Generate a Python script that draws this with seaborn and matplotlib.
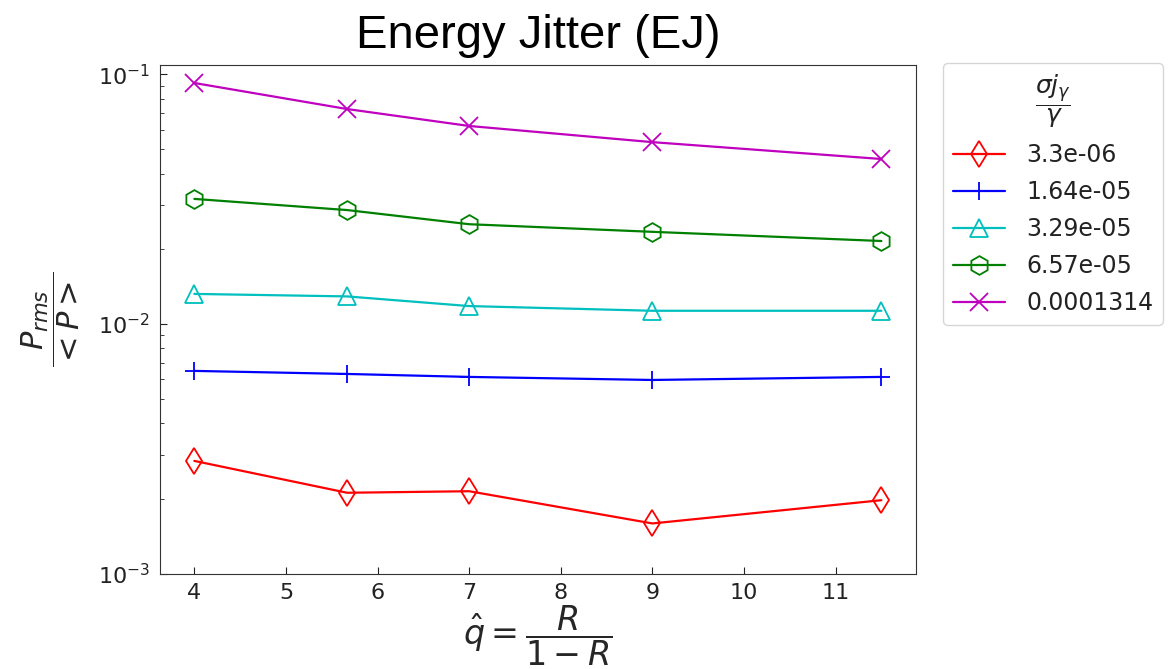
import matplotlib
matplotlib.use("Agg")
import matplotlib.pyplot as plt
import seaborn as sns
import pandas as pd

q_hat = [4.0, 5.667, 7.0, 9.0, 11.5]
labels = ["3.3e-06", "1.64e-05", "3.29e-05", "6.57e-05", "0.0001314"]
s1 = [0.00283, 0.00211, 0.00214, 0.00159, 0.00197]
s2 = [0.00649, 0.00631, 0.00614, 0.00597, 0.00614]
s3 = [0.0132, 0.0129, 0.0118, 0.0113, 0.0113]
s4 = [0.0317, 0.0286, 0.0251, 0.0234, 0.0215]
s5 = [0.0923, 0.0726, 0.0621, 0.0535, 0.0458]
series = [s1, s2, s3, s4, s5]
colors = ["#ff0000", "#0000ff", "#00bfbf", "#008000", "#bf00bf"]
markers = ["d", "+", "^", "h", "x"]

sns.set_style("ticks")
plt.rcParams.update({
    "font.family": ["DejaVu Sans"],
    "mathtext.fontset": "dejavusans",
    "xtick.direction": "in", "ytick.direction": "in",
    "axes.edgecolor": "#333333",
    "text.color": "#222222",
    "xtick.color": "#222222", "ytick.color": "#222222",
})

fig = plt.figure(figsize=(11.68, 6.69), dpi=100)
ax = fig.add_axes([0.137, 0.1424, 0.647, 0.7605])

for lab, vals, c, m in zip(labels, series, colors, markers):
    df = pd.DataFrame({"q": q_hat, "p": vals})
    sns.lineplot(data=df, x="q", y="p", ax=ax, color=c, marker=m, label=lab,
                 markersize=13.5, markerfacecolor="none", markeredgecolor=c,
                 markeredgewidth=1.3, linewidth=1.6)

ax.set_yscale("log")
ax.set_ylim(1e-3, 0.109)
ax.set_xticks(range(4, 12))
ax.tick_params(axis="both", labelsize=16, length=5, pad=7)
ax.tick_params(axis="y", which="minor", length=3)
ax.set_xlabel(r"$\hat{q} = \dfrac{R}{1-R}$", fontsize=24, labelpad=0)
ax.set_ylabel(r"$\dfrac{P_{rms}}{<P>}$", fontsize=22, labelpad=12)
ax.set_title("Energy Jitter (EJ)", fontsize=34, family="Liberation Sans",
             pad=12, color="black")

leg = ax.legend(title=r"$\dfrac{\sigma j_\gamma}{\gamma}$", loc="upper left",
                bbox_to_anchor=(1.036, 1.004), borderaxespad=0,
                fontsize=17, title_fontsize=18,
                handlelength=2.2, handletextpad=0.9, borderpad=0.42,
                labelspacing=0.55)
leg.get_frame().set_edgecolor("#cccccc")

fig.savefig("out.png", dpi=100)
